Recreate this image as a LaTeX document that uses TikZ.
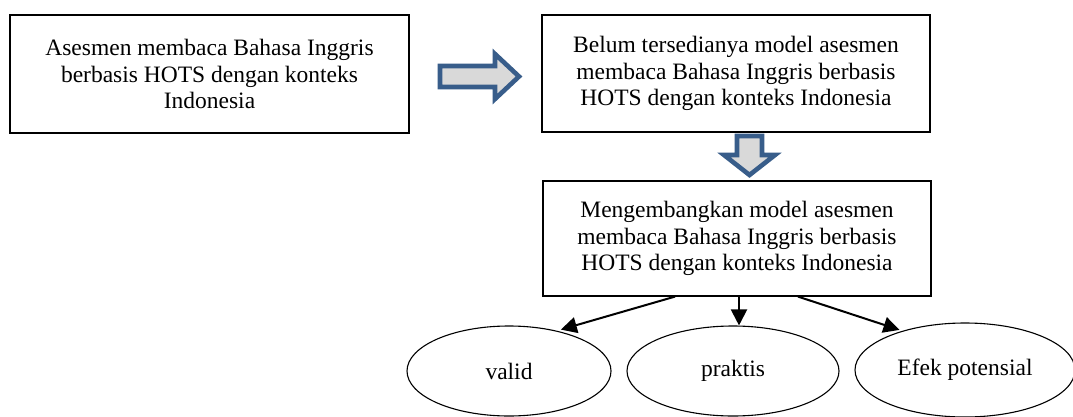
\documentclass[tikz,border=0pt]{standalone}
\usepackage{fontspec}
\setmainfont{Liberation Serif}
\usetikzlibrary{shapes.geometric,arrows.meta}
\definecolor{arrowblue}{HTML}{385D8A}
\definecolor{arrowfill}{HTML}{D9D9D9}
\tikzset{
  txt/.style={font=\fontsize{23.5}{26.5}\selectfont, align=center},
  boxnode/.style={txt, draw=black, line width=1.2pt, inner sep=0pt},
  ovalnode/.style={txt, draw=black, ellipse, line width=1.1pt, inner sep=0pt},
  conn/.style={line width=2pt, -{Triangle[length=16pt,width=16pt]}},
  blockarrow/.style={draw=arrowblue, fill=arrowfill, line width=4.6pt, line join=miter}
}
\begin{document}
\begin{tikzpicture}[x=1pt,y=-1pt]
\clip (0,0) rectangle (1073,417);
\fill[white] (0,0) rectangle (1073,417);

\node[boxnode, minimum width=399pt, minimum height=118pt] (b1) at (209.5,74)
  {Asesmen membaca Bahasa Inggris\\berbasis HOTS dengan konteks\\Indonesia};
\node[boxnode, minimum width=388pt, minimum height=117pt] (b2) at (736,73.5)
  {Belum tersedianya model asesmen\\membaca Bahasa Inggris berbasis\\HOTS dengan konteks Indonesia};
\node[boxnode, minimum width=388pt, minimum height=115pt] (b3) at (737,238.5)
  {Mengembangkan model asesmen\\membaca Bahasa Inggris berbasis\\HOTS dengan konteks Indonesia};

\node[ovalnode, minimum width=204pt, minimum height=90pt] (e1) at (509,371) {\raisebox{-4pt}{valid}};
\node[ovalnode, minimum width=212pt, minimum height=90pt] (e2) at (733,371) {\raisebox{-1pt}{praktis}};
\node[ovalnode, minimum width=220pt, minimum height=94pt] (e3) at (965,370) {\raisebox{-1pt}{Efek potensial}};

% block arrow right
\draw[blockarrow] (440,66) -- (495,66) -- (495,54) -- (519,76.5) -- (495,99) -- (495,87) -- (440,87) -- cycle;
% block arrow down
\draw[blockarrow] (737,136) -- (762,136) -- (762,155) -- (775,155) -- (749.5,175) -- (724,155) -- (737,155) -- cycle;

\draw[conn, shorten >=4pt] ([xshift=-62pt]b3.south) -- (e1.40);
\draw[conn] ([xshift=2pt]b3.south) -- ([xshift=2pt]b3.south |- e2.north);
\draw[conn, shorten >=3pt] ([xshift=61pt]b3.south) -- (e3.148);
\end{tikzpicture}
\end{document}
